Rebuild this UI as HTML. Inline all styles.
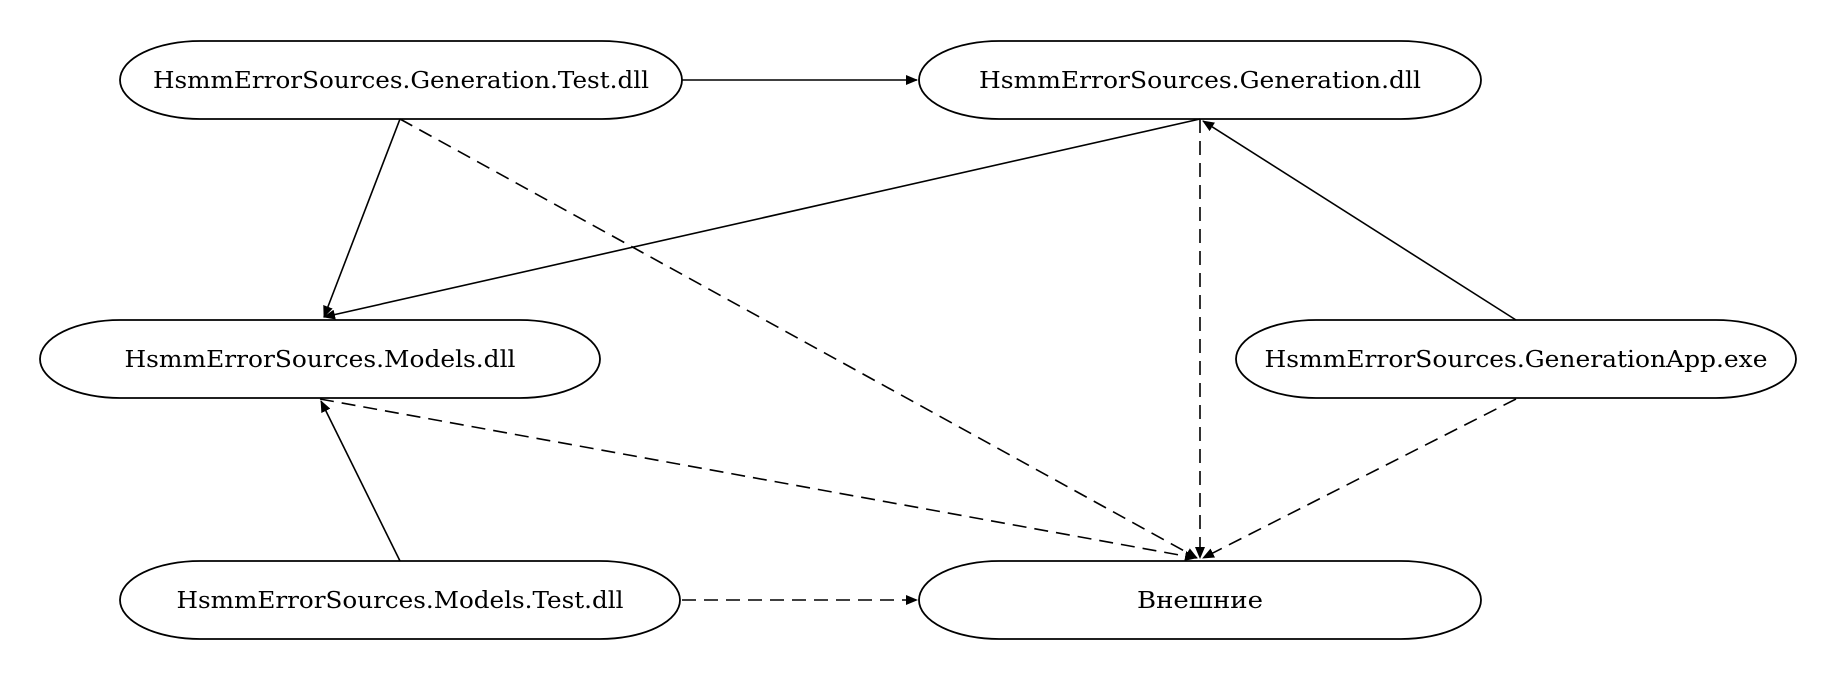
<!DOCTYPE html>
<html><head><meta charset="utf-8"><style>html,body{margin:0;padding:0;background:#fff;}svg{display:block}</style></head>
<body>
<svg width="1829" height="680" viewBox="0 0 1829 680" xmlns="http://www.w3.org/2000/svg">
<defs>
<marker id="a" markerWidth="12" markerHeight="10" refX="11" refY="5" orient="auto" markerUnits="userSpaceOnUse">
<path d="M0,0 L12,5 L0,10 z" fill="#000"/></marker>
</defs>
<g fill="none" stroke="#000" stroke-width="1.8">
<rect x="120" y="41" width="562" height="78" rx="80" ry="39"/>
<rect x="919" y="41" width="562" height="78" rx="80" ry="39"/>
<rect x="40" y="320" width="560" height="78" rx="80" ry="39"/>
<rect x="1236" y="320" width="560" height="78" rx="80" ry="39"/>
<rect x="120" y="561" width="560" height="78" rx="80" ry="39"/>
<rect x="919" y="561" width="562" height="78" rx="80" ry="39"/>
</g>
<g stroke="#000" stroke-width="1.6" fill="none" marker-end="url(#a)">
<line x1="682" y1="80" x2="917" y2="80"/>
<line x1="400" y1="119" x2="324" y2="317"/>
<line x1="1200" y1="119" x2="324" y2="317"/>
<line x1="1516" y1="320" x2="1203" y2="121"/>
<line x1="400" y1="561" x2="321" y2="401"/>
</g>
<g stroke="#000" stroke-width="1.6" fill="none" stroke-dasharray="14,8" marker-end="url(#a)">
<line x1="400" y1="119" x2="1197" y2="558"/>
<line x1="1200" y1="119" x2="1200" y2="558"/>
<line x1="320" y1="399" x2="1196" y2="558"/>
<line x1="1516" y1="399" x2="1203" y2="558"/>
<line x1="682" y1="600" x2="917" y2="600"/>
</g>
<g font-family="'DejaVu Serif','Liberation Serif',serif" font-size="23" text-anchor="middle" fill="#000">
<text x="401" y="88" textLength="496" lengthAdjust="spacingAndGlyphs">HsmmErrorSources.Generation.Test.dll</text>
<text x="1200" y="88" textLength="442" lengthAdjust="spacingAndGlyphs">HsmmErrorSources.Generation.dll</text>
<text x="320" y="367" textLength="391" lengthAdjust="spacingAndGlyphs">HsmmErrorSources.Models.dll</text>
<text x="1516" y="367" textLength="503" lengthAdjust="spacingAndGlyphs">HsmmErrorSources.GenerationApp.exe</text>
<text x="400" y="608" textLength="447" lengthAdjust="spacingAndGlyphs">HsmmErrorSources.Models.Test.dll</text>
<text x="1200" y="608" textLength="126" lengthAdjust="spacingAndGlyphs">Внешние</text>
</g>
</svg>
</body></html>
